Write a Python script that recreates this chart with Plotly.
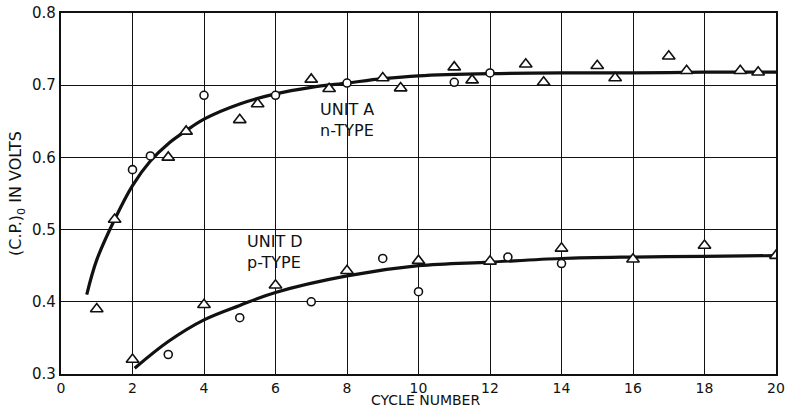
import plotly.graph_objects as go

# Unit A (n-type): measured points
a_tri_x = [1.0, 1.5, 3.0, 3.5, 5.0, 5.5, 7.0, 7.5, 9.0, 9.5, 11.0, 11.5, 13.0, 13.5, 15.0, 15.5, 17.0, 17.5, 19.0, 19.5]
a_tri_y = [0.390, 0.514, 0.600, 0.636, 0.652, 0.674, 0.708, 0.695, 0.710, 0.696, 0.725, 0.707, 0.729, 0.704, 0.727, 0.710, 0.740, 0.720, 0.720, 0.718]
a_cir_x = [2.0, 2.5, 4.0, 6.0, 8.0, 11.0, 12.0]
a_cir_y = [0.583, 0.602, 0.686, 0.686, 0.703, 0.704, 0.717]
# Unit A faired curve
a_curve_x = [0.72, 1.0, 1.5, 2.0, 2.5, 3.0, 3.5, 4.0, 5.0, 6.0, 7.0, 8.0, 9.0, 10.0, 12.0, 14.0, 16.0, 18.0, 20.0]
a_curve_y = [0.410, 0.458, 0.514, 0.561, 0.595, 0.619, 0.637, 0.653, 0.674, 0.688, 0.697, 0.703, 0.709, 0.713, 0.716, 0.717, 0.717, 0.718, 0.718]

# Unit D (p-type): measured points
d_tri_x = [2.0, 4.0, 6.0, 8.0, 10.0, 12.0, 14.0, 16.0, 18.0, 20.0]
d_tri_y = [0.320, 0.396, 0.423, 0.443, 0.457, 0.456, 0.474, 0.459, 0.478, 0.464]
d_cir_x = [3.0, 5.0, 7.0, 9.0, 10.0, 12.5, 14.0]
d_cir_y = [0.327, 0.378, 0.400, 0.460, 0.414, 0.462, 0.453]
# Unit D faired curve
d_curve_x = [2.06, 3.0, 4.0, 5.0, 6.0, 8.0, 10.0, 12.0, 14.0, 16.0, 18.0, 20.0]
d_curve_y = [0.308, 0.345, 0.375, 0.395, 0.413, 0.436, 0.450, 0.455, 0.460, 0.462, 0.463, 0.464]

x_ticks = [0, 2, 4, 6, 8, 10, 12, 14, 16, 18, 20]
y_ticks = [0.3, 0.4, 0.5, 0.6, 0.7, 0.8]

FONT = "DejaVu Sans"
INK = "#111111"

fig = go.Figure()

for cx, cy in [(a_curve_x, a_curve_y), (d_curve_x, d_curve_y)]:
    fig.add_trace(go.Scatter(
        x=cx, y=cy, mode="lines",
        line=dict(color=INK, width=3.2, shape="spline", smoothing=1.0),
        hoverinfo="skip", showlegend=False))

def add_points(xs, ys, symbol, size):
    fig.add_trace(go.Scatter(
        x=xs, y=ys, mode="markers",
        marker=dict(symbol=symbol, size=size, color="white",
                    line=dict(color=INK, width=1.6)),
        showlegend=False))

add_points(a_tri_x, a_tri_y, "triangle-up", 11)
add_points(d_tri_x, d_tri_y, "triangle-up", 11)
add_points(a_cir_x, a_cir_y, "circle", 8)
add_points(d_cir_x, d_cir_y, "circle", 8)

# Curve labels, one two-line block per unit
labels = [
    (8.0, 0.652, "UNIT A<br>n-TYPE"),
    (5.99, 0.469, "UNIT D<br>p-TYPE"),
]
for lx, ly, txt in labels:
    fig.add_annotation(x=lx, y=ly, text=txt, showarrow=False, align="left",
                       font=dict(family=FONT, size=16, color=INK))

# Horizontal axis title, set just under the tick numbers
fig.add_annotation(x=0.51, y=0, xref="paper", yref="paper", yshift=-26,
                   text="CYCLE NUMBER", showarrow=False, yanchor="middle",
                   borderpad=0, font=dict(family=FONT, size=14, color=INK))

fig.update_xaxes(
    range=[0, 20], tickvals=x_ticks, ticktext=[str(v) for v in x_ticks],
    showgrid=True, gridcolor=INK, gridwidth=1.3,
    showline=True, linecolor=INK, linewidth=2.2, mirror=True,
    ticks="", zeroline=False, automargin=False,
    tickfont=dict(family=FONT, size=14, color=INK),
)
fig.update_yaxes(
    range=[0.3, 0.8], tickvals=y_ticks, ticktext=[f"{v:.1f}" for v in y_ticks],
    showgrid=True, gridcolor=INK, gridwidth=1.3,
    showline=True, linecolor=INK, linewidth=2.2, mirror=True,
    ticks="", zeroline=False, automargin=False,
    tickfont=dict(family=FONT, size=15, color=INK),
    title=dict(text="(C.P.)<sub>0</sub> IN VOLTS", font=dict(family=FONT, size=16, color=INK), standoff=6),
)

fig.update_layout(
    width=790, height=407,
    margin=dict(l=61, r=14, t=13, b=33),
    paper_bgcolor="white", plot_bgcolor="white",
)

fig.write_html("out.html")
